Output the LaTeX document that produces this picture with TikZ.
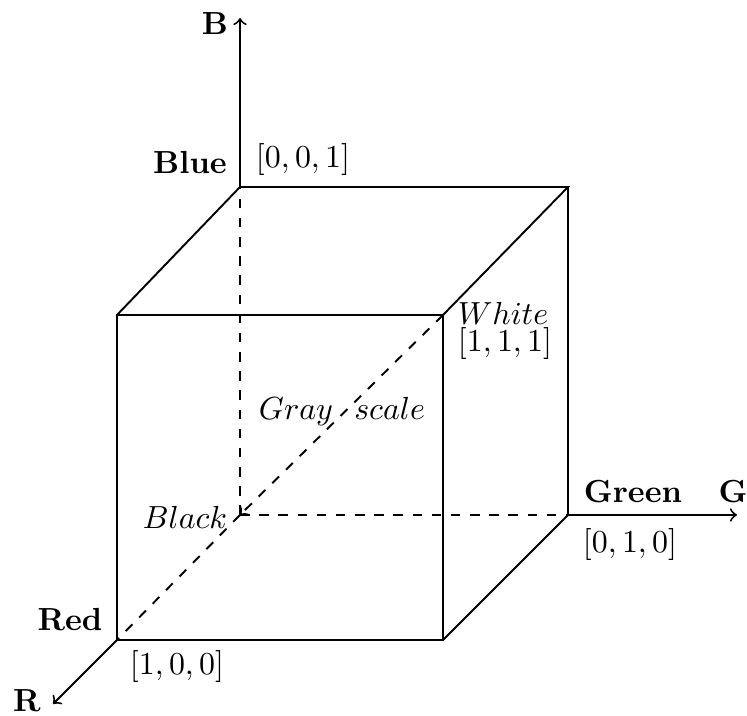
\documentclass[tikz,border=0pt]{standalone}
\usepackage{amsmath,amssymb}
\usepackage{tikz}

\begin{document}
\begin{tikzpicture}[x=0.011cm,y=0.011cm,>=to,semithick]
\useasboundingbox (0,0) rectangle (747,716);

% corners of the cube
\coordinate (black) at (240,201);
\coordinate (blue) at (240,529);
\coordinate (green) at (568,201);
\coordinate (red) at (117,76);
\coordinate (white) at (443,401);
\coordinate (redblue) at (117,401);
\coordinate (redgreen) at (443,76);
\coordinate (greenblue) at (568,529);

% axis tips
\coordinate (baxis) at (240,698);
\coordinate (gaxis) at (737,201);
\coordinate (raxis) at (53,12);

% axes
\draw[->] (blue) -- (baxis);
\draw[->] (green) -- (gaxis);
\draw[->] (red) -- (raxis);

% hidden edges
\draw[dashed] (black) -- (blue);
\draw[dashed] (black) -- (green);
\draw[dashed] (black) -- (red);
\draw[dashed,->] (white) -- (black);

% visible edges
\draw (red) -- (redgreen) -- (white) -- (redblue) -- cycle;
\draw (redblue) -- (blue) -- (greenblue) -- (white);
\draw (greenblue) -- (green) -- (redgreen);

% labels
\node (lb) at (215,692) {$\mathbf{B}$};
\node (lblue) at (190,553) {\textbf{Blue}};
\node (vblue) at (303,556) {$[0,0,1]$};
\node (lwhite) at (503,403) {$White$};
\node (vwhite) at (505,372) {$[1,1,1]$};
\node (lgray) at (342,304) {$Gray\ \ scale$};
\node (lblack) at (185,199) {$Black$};
\node (lgreen) at (633,224) {\textbf{Green}};
\node (lg) at (733,224) {$\mathbf{G}$};
\node (vgreen) at (630,171) {$[0,1,0]$};
\node (lred) at (70,96) {\textbf{Red}};
\node (vred) at (177,49) {$[1,0,0]$};
\node (lr) at (27,15) {$\mathbf{R}$};

\end{tikzpicture}
\end{document}
